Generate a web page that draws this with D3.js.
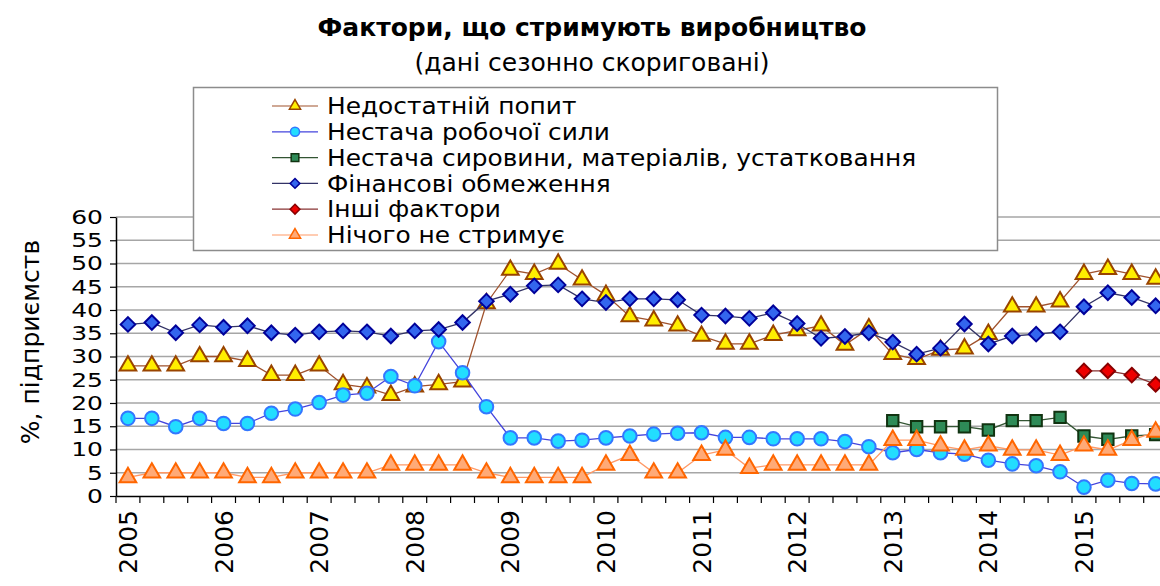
<!DOCTYPE html>
<html lang="uk">
<head>
<meta charset="utf-8" />
<title>Фактори, що стримують виробництво</title>
<style>
  body { margin: 0; background: #fff; }
  svg text { font-family: "DejaVu Sans", Verdana, sans-serif; fill: #000; }
  .grid line { stroke: #a6a6a6; stroke-width: 1.5; }
  .legend text { font-family: "DejaVu Sans Condensed", "DejaVu Sans", sans-serif; }
</style>
<script src="https://cdn.jsdelivr.net/npm/d3@7/dist/d3.min.js"></script>
</head>
<body>
<script>
// quarters 2005Q1 .. 2015Q4
var years = [2005, 2006, 2007, 2008, 2009, 2010, 2011, 2012, 2013, 2014, 2015];
var quarters = [];
years.forEach(function(y) { [1, 2, 3, 4].forEach(function(q) { quarters.push(y + 'Q' + q); }); });

var yTicks = [0, 5, 10, 15, 20, 25, 30, 35, 40, 45, 50, 55, 60];

var demand = [28, 28, 28, 30, 30, 29, 26, 26, 28, 24, 23.3, 21.7,
              23.5, 24, 24.6, 41.4, 48.6, 47.7, 49.9, 46.5, 43.2, 38.6, 37.7, 36.6,
              34.4, 32.7, 32.7, 34.6, 35.6, 36.6, 32.5, 36, 30.5, 29.4, 31.4, 31.7,
              34.8, 40.7, 40.7, 41.8, 47.7, 48.8, 47.7, 46.7];
var labour = [16.7, 16.7, 14.9, 16.7, 15.6, 15.6, 17.8, 18.7, 20.1, 21.7, 22.1, 25.7,
              23.7, 33.2, 26.5, 19.2, 12.5, 12.5, 11.8, 12.0, 12.5, 12.9, 13.3, 13.5,
              13.6, 12.6, 12.6, 12.3, 12.3, 12.3, 11.7, 10.6, 9.3, 10.0, 9.3, 9.0,
              7.7, 6.9, 6.5, 5.2, 1.9, 3.4, 2.7, 2.6];
var materials = [null, null, null, null, null, null, null, null, null, null, null, null,
                 null, null, null, null, null, null, null, null, null, null, null, null,
                 null, null, null, null, null, null, null, null, 16.2, 14.9, 14.9, 14.9,
                 14.2, 16.2, 16.2, 16.9, 12.9, 12.2, 12.9, 13.2];
var finance = [36.9, 37.3, 35.1, 36.8, 36.3, 36.6, 35.1, 34.6, 35.3, 35.5, 35.3, 34.4,
               35.5, 35.8, 37.3, 41.9, 43.4, 45.2, 45.4, 42.4, 41.6, 42.4, 42.4, 42.2,
               38.9, 38.7, 38.2, 39.4, 37.1, 33.9, 34.3, 35.1, 33.1, 30.5, 31.8, 37.0,
               32.7, 34.4, 34.8, 35.3, 40.7, 43.7, 42.7, 40.9];
var other = [null, null, null, null, null, null, null, null, null, null, null, null,
             null, null, null, null, null, null, null, null, null, null, null, null,
             null, null, null, null, null, null, null, null, null, null, null, null,
             null, null, null, null, 26.9, 26.9, 26.0, 24.0];
var nothing = [4, 5, 5, 5, 5, 4, 4, 5, 5, 5, 5, 6.7,
               6.7, 6.7, 6.7, 5, 4, 4, 4, 4, 6.7, 8.8, 5, 5,
               8.8, 9.9, 6.0, 6.7, 6.7, 6.7, 6.7, 6.7, 12, 12, 10.8, 9.9,
               10.8, 9.9, 9.9, 8.8, 10.8, 9.9, 12, 13.8];

var seriesNames = ['Недостатній попит', 'Нестача робочої сили',
                   'Нестача сировини, матеріалів, устатковання', 'Фінансові обмеження',
                   'Інші фактори', 'Нічого не стримує'];

var series = [
  { name: seriesNames[0], values: demand,    symbol: d3.symbolTriangle, size: 120, line: '#a0522d', fill: '#ffee00', stroke: '#994400' },
  { name: seriesNames[1], values: labour,    symbol: d3.symbolCircle,   size: 145, line: '#4444dd', fill: '#22ddff', stroke: '#3377ff' },
  { name: seriesNames[2], values: materials, symbol: d3.symbolSquare,   size: 130, line: '#335533', fill: '#2e8b57', stroke: '#113311' },
  { name: seriesNames[3], values: finance,   symbol: d3.symbolDiamond2, size: 135, line: '#333366', fill: '#3366ee', stroke: '#000099' },
  { name: seriesNames[4], values: other,     symbol: d3.symbolDiamond2, size: 135, line: '#883333', fill: '#ee0000', stroke: '#880000' },
  { name: seriesNames[5], values: nothing,   symbol: d3.symbolTriangle, size: 120, line: '#ff9966', fill: '#ffaa77', stroke: '#ff6600' }
];

var width = 1160, height = 586;
var plotLeft = 116, plotBottom = 496, plotTop = 217, step = 23.9;

var svg = d3.select('body').append('svg')
    .attr('width', width)
    .attr('height', height);

var x = d3.scaleBand()
    .domain(quarters)
    .range([plotLeft, plotLeft + quarters.length * step])
    .padding(0);

var y = d3.scaleLinear()
    .domain([0, 60])
    .range([plotBottom, plotTop]);

var cx = function(i) { return x(quarters[i]) + x.bandwidth() / 2; };

// gridlines
svg.append('g')
    .attr('class', 'grid')
    .selectAll('line')
    .data(yTicks.slice(1))
    .enter().append('line')
    .attr('x1', plotLeft).attr('x2', width)
    .attr('y1', function(d) { return y(d); })
    .attr('y2', function(d) { return y(d); });

// legend box (drawn over the gridlines)
var legend = svg.append('g').attr('class', 'legend');
legend.append('rect')
    .attr('x', 193.5).attr('y', 87.5)
    .attr('width', 804).attr('height', 163)
    .attr('fill', '#fff')
    .attr('stroke', '#8c8c8c')
    .attr('stroke-width', 1.5);

var row = legend.selectAll('g.row')
    .data(series)
    .enter().append('g')
    .attr('class', 'row')
    .attr('transform', function(d, i) { return 'translate(0,' + (106 + i * 25.8) + ')'; });

row.append('line')
    .attr('x1', 272).attr('x2', 318)
    .attr('stroke', function(d) { return d.line; })
    .attr('stroke-width', 1.2);
row.append('path')
    .attr('transform', 'translate(295,0)')
    .attr('d', function(d) { return d3.symbol(d.symbol, d.size * 0.45)(); })
    .attr('fill', function(d) { return d.fill; })
    .attr('stroke', function(d) { return d.stroke; })
    .attr('stroke-width', 1.5);
// the source font is narrow but wide-set, so stretch a smaller font sideways
row.append('text')
    .attr('transform', 'translate(327,0) scale(1.2,1)')
    .attr('dy', '0.36em')
    .style('font-size', '23px')
    .text(function(d) { return d.name; });

// lines and markers
var lineGen = d3.line()
    .defined(function(d) { return d != null; })
    .x(function(d, i) { return cx(i); })
    .y(function(d) { return y(d); });

var sg = svg.selectAll('g.series')
    .data(series)
    .enter().append('g')
    .attr('class', 'series');

sg.append('path')
    .attr('fill', 'none')
    .attr('stroke', function(d) { return d.line; })
    .attr('stroke-width', 1.3)
    .attr('d', function(d) { return lineGen(d.values); });

sg.each(function(s) {
  d3.select(this).selectAll('path.mark')
    .data(s.values.map(function(v, i) { return { v: v, i: i }; }).filter(function(d) { return d.v != null; }))
    .enter().append('path')
    .attr('class', 'mark')
    .attr('transform', function(d) { return 'translate(' + cx(d.i) + ',' + y(d.v) + ')'; })
    .attr('d', d3.symbol(s.symbol, s.size)())
    .attr('fill', s.fill)
    .attr('stroke', s.stroke)
    .attr('stroke-width', 2);
});

// y axis
var yAxis = svg.append('g')
    .attr('transform', 'translate(' + plotLeft + ',0)')
    .call(d3.axisLeft(y).tickValues(yTicks).tickSize(6).tickSizeOuter(0));
yAxis.select('.domain').attr('stroke', '#000').attr('stroke-width', 1.5);
yAxis.selectAll('.tick line').attr('stroke', '#000').attr('stroke-width', 1.2);
yAxis.selectAll('.tick text')
    .attr('x', -13 / 1.25)
    .attr('transform', 'scale(1.25,1)')
    .style('font-size', '20px')
    .style('font-family', '"DejaVu Sans", sans-serif');

// x axis
var xAxis = svg.append('g')
    .attr('transform', 'translate(0,' + plotBottom + ')')
    .call(d3.axisBottom(x)
        .tickSize(0)
        .tickFormat(function(d) { return d.slice(-2) === 'Q1' ? d.slice(0, 4) : ''; }));
xAxis.select('.domain').attr('stroke', '#000').attr('stroke-width', 1.5);
xAxis.selectAll('.tick text')
    .attr('transform', 'rotate(-90)')
    .attr('x', -14).attr('y', 0).attr('dy', '0.36em')
    .style('text-anchor', 'end')
    .style('font-size', '25px');

// category boundary ticks
xAxis.selectAll('line.qtick')
    .data(quarters)
    .enter().append('line')
    .attr('class', 'qtick')
    .attr('x1', function(d) { return x(d); })
    .attr('x2', function(d) { return x(d); })
    .attr('y1', 0).attr('y2', 7)
    .attr('stroke', '#000')
    .attr('stroke-width', 1.2);

// titles
svg.append('text')
    .attr('x', 592).attr('y', 36)
    .attr('text-anchor', 'middle')
    .style('font-size', '25px')
    .style('font-weight', 'bold')
    .text('Фактори, що стримують виробництво');

svg.append('text')
    .attr('x', 592).attr('y', 71)
    .attr('text-anchor', 'middle')
    .style('font-size', '25px')
    .text('(дані сезонно скориговані)');

svg.append('text')
    .attr('transform', 'translate(30,342) rotate(-90)')
    .attr('text-anchor', 'middle')
    .attr('dy', '0.36em')
    .style('font-size', '25px')
    .text('%, підприємств');
</script>
</body>
</html>
